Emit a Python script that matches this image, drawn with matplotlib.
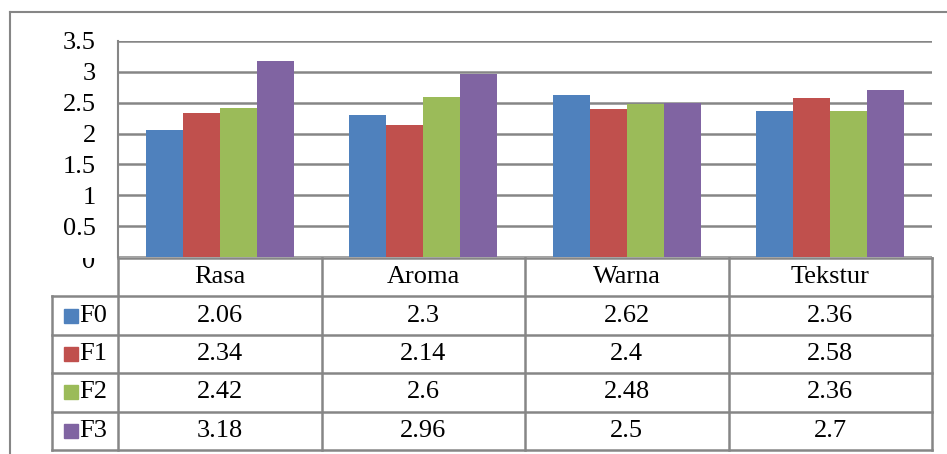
import matplotlib.pyplot as plt
from matplotlib.patches import Rectangle
from matplotlib.lines import Line2D
from matplotlib.transforms import Bbox, offset_copy

categories = ['Rasa', 'Aroma', 'Warna', 'Tekstur']
series = ['F0', 'F1', 'F2', 'F3']
f0 = [2.06, 2.3, 2.62, 2.36]
f1 = [2.34, 2.14, 2.4, 2.58]
f2 = [2.42, 2.6, 2.48, 2.36]
f3 = [3.18, 2.96, 2.5, 2.7]
values = [f0, f1, f2, f3]
colors = ['#4F81BD', '#C0504D', '#9BBB59', '#8064A2']
yticks = [0, 0.5, 1, 1.5, 2, 2.5, 3, 3.5]

W, H = 947, 454
grid = '#868686'
plt.rcParams['font.family'] = ['Liberation Serif', 'DejaVu Serif']
fs = 19

fig = plt.figure(figsize=(W / 100, H / 100), dpi=100)

def fpos(x0, y0, x1, y1):
    return [x0 / W, 1 - y1 / H, (x1 - x0) / W, (y1 - y0) / H]

# outer chart border (cropped on the right and bottom)
fig.add_artist(Line2D([10 / W, 10 / W], [0, 1 - 12 / H], color=grid, lw=1.5))
fig.add_artist(Line2D([10 / W, 1], [1 - 12 / H, 1 - 12 / H], color=grid, lw=1.5))

# bars
ax = fig.add_axes(fpos(118, 41, 932, 257))
w = 1 / 5.5
for i, s in enumerate(series):
    xs = [c + (i - 1.5) * w for c in range(len(categories))]
    ax.bar(xs, values[i], width=w, color=colors[i], zorder=3)
ax.set_xlim(-0.5, len(categories) - 0.5)
ax.set_ylim(0, 3.5)
ax.set_yticks(yticks)
ax.set_yticklabels(['' if t == 0 else '{:g}'.format(t) for t in yticks], fontsize=fs)
ax.tick_params(axis='y', length=0, pad=16)
ax.set_xticks([])
for t in yticks:
    ax.axhline(t, color=grid, lw=1.8, zorder=1)
for sp in ['top', 'right', 'bottom']:
    ax.spines[sp].set_visible(False)
ax.spines['left'].set_color(grid)
ax.spines['left'].set_linewidth(1.5)

# the "0" label is half hidden behind the table header
zt = offset_copy(ax.get_yaxis_transform(), fig=fig, x=-23, y=-2, units='dots')
zero = ax.text(0, 0, '0', transform=zt, ha='right', va='center_baseline', fontsize=fs)
zero.set_clip_on(True)
zero.set_clip_box(Bbox.from_extents(0, 0, W, H - 258))

# data table
tab = fig.add_axes(fpos(52, 258, 932, 450))
colw = 203.5
xl = -0.5 - 66 / colw
tab.set_xlim(xl, 3.5)
tab.set_ylim(5, 0)
tab.axis('off')
kw = dict(color=grid, lw=1.8, clip_on=False)
tab.plot([-0.5, 3.5], [0, 0], **kw)
for r in range(1, 6):
    tab.plot([xl, 3.5], [r, r], **kw)
tab.plot([xl, xl], [1, 5], **kw)
for c in range(len(categories) + 1):
    tab.plot([c - 0.5, c - 0.5], [0, 5], **kw)
for c, cat in enumerate(categories):
    tab.text(c, 0.5, cat, ha='center', va='center', fontsize=fs)
for i, s in enumerate(series):
    y = i + 1.5
    tab.add_patch(Rectangle((xl + 12 / colw, y - 0.18), 14 / colw, 0.36,
                            color=colors[i], clip_on=False))
    tab.text(xl + 27 / colw, y, s, ha='left', va='center', fontsize=fs)
    for c in range(len(categories)):
        tab.text(c, y, '{:g}'.format(values[i][c]), ha='center', va='center', fontsize=fs)

fig.savefig('out.png', dpi=100)
